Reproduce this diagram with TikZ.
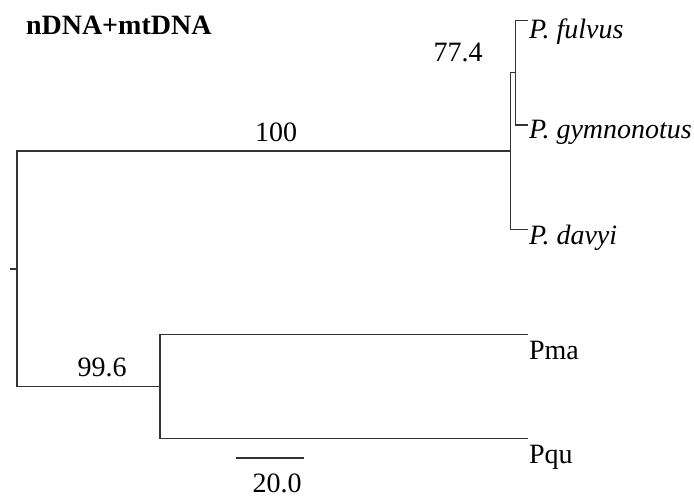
\documentclass[tikz,border=0pt]{standalone}
\usepackage{fontspec}
\setmainfont{Liberation Serif}
\begin{document}
\begin{tikzpicture}[x=0.5pt,y=-0.5pt,
  branch/.style={draw=black!80,line width=0.55pt},
  lbl/.style={inner sep=0pt,outer sep=0pt,font=\fontsize{14}{16}\selectfont},
  taxon/.style={lbl,anchor=base west},
  support/.style={lbl,anchor=base}]
\useasboundingbox (0,0) rectangle (694,496);
% internal nodes and leaf ends
\coordinate (T) at (10,269);
\coordinate (R) at (17,269);
\coordinate (A) at (510.7,151);
\coordinate (B) at (515.7,72.7);
\coordinate (F) at (528,20.7);
\coordinate (G) at (528,125);
\coordinate (D) at (528,229.3);
\coordinate (C) at (160,386.5);
\coordinate (M) at (528,334.5);
\coordinate (Q) at (528,438.5);
\coordinate (S1) at (236,458);
\coordinate (S2) at (304,458);
% branches
\draw[branch] (T) -- (R);
\draw[branch] (R) |- (A);
\draw[branch] (R) |- (C);
\draw[branch] (A) |- (B);
\draw[branch] (A) |- (D);
\draw[branch] (B) |- (F);
\draw[branch] (B) |- (G);
\draw[branch] (C) |- (M);
\draw[branch] (C) |- (Q);
\draw[branch] (S1) -- (S2);
% labels
\node[taxon,font=\fontsize{14}{16}\selectfont\bfseries] (title) at (26,35) {nDNA+mtDNA};
\node[taxon] (fulvus) at (529,39) {\textit{P. fulvus}};
\node[taxon] (gymno) at (529,139) {\textit{P. gymnonotus}};
\node[taxon] (davyi) at (529,244) {\textit{P. davyi}};
\node[taxon] (pma) at (529,359) {Pma};
\node[taxon] (pqu) at (529,463) {Pqu};
\node[support] (s100) at (276,142) {100};
\node[support] (s774) at (458,62) {77.4};
\node[support] (s996) at (102,376) {99.6};
\node[support] (scale) at (277,492) {20.0};
\end{tikzpicture}
\end{document}
